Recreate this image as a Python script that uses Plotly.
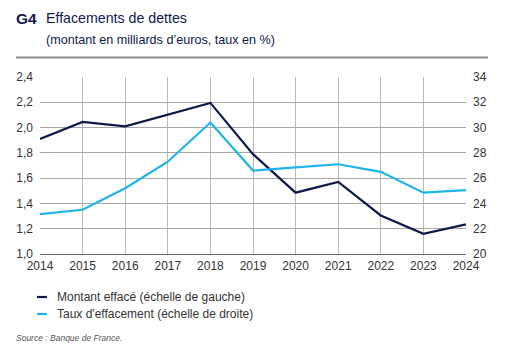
import plotly.graph_objects as go

years = [2014, 2015, 2016, 2017, 2018, 2019, 2020, 2021, 2022, 2023, 2024]
montant = [1.91, 2.045, 2.01, 2.105, 2.195, 1.79, 1.485, 1.57, 1.305, 1.16, 1.235]
taux = [23.15, 23.5, 25.2, 27.3, 30.4, 26.6, 26.85, 27.1, 26.5, 24.85, 25.05]
series_names = ["Montant effacé (échelle de gauche)", "Taux d'effacement (échelle de droite)"]

NAVY = "#0e1a4a"
LIGHT = "#1cb5ea"
FONT = "Liberation Sans, Arial, sans-serif"
TICK = dict(family=FONT, size=12, color="#333333")

fig = go.Figure()
fig.add_trace(go.Scatter(x=years, y=montant, mode="lines", name=series_names[0],
                         line=dict(color=NAVY, width=2.2), yaxis="y"))
fig.add_trace(go.Scatter(x=years, y=taux, mode="lines", name=series_names[1],
                         line=dict(color=LIGHT, width=2.2), yaxis="y2"))

W, H = 511, 358
L, R, T, B = 40, 466, 77, 254

fig.update_layout(
    width=W, height=H,
    margin=dict(l=L, r=W - R, t=T, b=H - B, autoexpand=False),
    paper_bgcolor="white", plot_bgcolor="white",
    separators=", ",
    showlegend=False,
    font=dict(family=FONT, size=12, color="#333333"),
    xaxis=dict(range=[2014, 2024], tickmode="array", tickvals=years,
               ticktext=[str(y) for y in years], automargin=False,
               showgrid=True, gridcolor="#b8b8b8", gridwidth=1,
               showline=True, linecolor="#666666", linewidth=1.2,
               ticks="", ticklen=0, zeroline=False, tickfont=TICK),
    yaxis=dict(range=[1.0, 2.4], tickmode="linear", tick0=1.0, dtick=0.2,
               tickformat=".1f", showgrid=True, gridcolor="#a8a8a8", gridwidth=1,
               zeroline=False, showline=False, ticks="", ticklabelstandoff=6,
               automargin=False, tickfont=TICK),
    yaxis2=dict(range=[20, 34], tickmode="linear", tick0=20, dtick=2,
                overlaying="y", side="right", showgrid=False, zeroline=False,
                showline=False, ticks="", ticklabelstandoff=6,
                automargin=False, tickfont=TICK),
)


def py(ypx):
    return (B - ypx) / (B - T)


def px(xpx):
    return (xpx - L) / (R - L)


# Title and subtitle
fig.add_annotation(xref="paper", yref="paper", x=px(14), y=py(18),
                   xanchor="left", yanchor="middle", showarrow=False,
                   text="<b>G4</b>", font=dict(family=FONT, size=15.5, color=NAVY))
fig.add_annotation(xref="paper", yref="paper", x=px(44), y=py(18),
                   xanchor="left", yanchor="middle", showarrow=False,
                   text="Effacements de dettes", font=dict(family=FONT, size=14.2, color=NAVY))
fig.add_annotation(xref="paper", yref="paper", x=px(44), y=py(40),
                   xanchor="left", yanchor="middle", showarrow=False,
                   text="(montant en milliards d’euros, taux en %)",
                   font=dict(family=FONT, size=12.6, color=NAVY))
# separator line under title
fig.add_shape(type="line", xref="paper", yref="paper",
              x0=px(16), x1=px(488), y0=py(57.5), y1=py(57.5),
              line=dict(color="#8c8c8c", width=2))

# Legend (custom)
for i, (name, col) in enumerate(zip(series_names, [NAVY, LIGHT])):
    ypix = 297 + i * 17
    fig.add_shape(type="line", xref="paper", yref="paper",
                  x0=px(37), x1=px(47), y0=py(ypix), y1=py(ypix),
                  line=dict(color=col, width=2.2))
    fig.add_annotation(xref="paper", yref="paper", x=px(55), y=py(ypix),
                       xanchor="left", yanchor="middle", showarrow=False,
                       text=name, font=dict(family=FONT, size=12, color="#333333"))

# Source
fig.add_annotation(xref="paper", yref="paper", x=px(14), y=py(338),
                   xanchor="left", yanchor="middle", showarrow=False,
                   text="<i>Source : Banque de France.</i>",
                   font=dict(family=FONT, size=8.5, color="#555555"))

fig.write_html("out.html", config={"displayModeBar": False},
               post_script="document.body.style.margin='0';")
